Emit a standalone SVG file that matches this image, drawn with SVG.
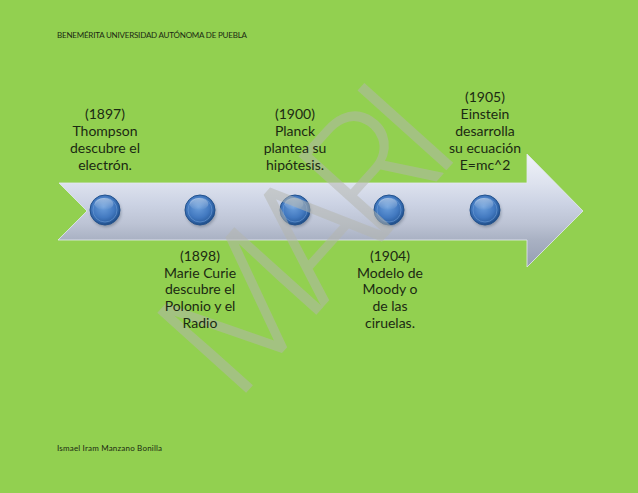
<svg xmlns="http://www.w3.org/2000/svg" width="638" height="493" viewBox="0 0 638 493">
<style>
.lbl{font-family:Lato,"Open Sans","Liberation Sans",sans-serif;font-size:14px;fill:#1b2a12;text-anchor:middle}
.small{font-family:Lato,"Open Sans","Liberation Sans",sans-serif;font-size:8px;fill:#1b2a12}
.wm{font-family:Roboto,"DejaVu Sans",sans-serif;font-weight:300;font-size:168px;fill:#b4b6ae;opacity:0.52}
</style>
<defs>
<linearGradient id="arrowFill" gradientUnits="userSpaceOnUse" x1="0" y1="154" x2="0" y2="267">
<stop offset="0" stop-color="#f0f3f8"/>
<stop offset="0.26" stop-color="#dde2ee"/>
<stop offset="0.45" stop-color="#cbd2e3"/>
<stop offset="0.62" stop-color="#bcc3d4"/>
<stop offset="0.76" stop-color="#a9b1c3"/>
<stop offset="1" stop-color="#959eb2"/>
</linearGradient>
<radialGradient id="ball" cx="0.45" cy="0.4" r="0.6">
<stop offset="0" stop-color="#6a9edb"/>
<stop offset="0.6" stop-color="#4279c0"/>
<stop offset="0.85" stop-color="#2f63a6"/>
<stop offset="1" stop-color="#1d4a82"/>
</radialGradient>
<linearGradient id="hl" x1="0" y1="0" x2="0" y2="1">
<stop offset="0" stop-color="#ffffff" stop-opacity="0.45"/>
<stop offset="1" stop-color="#ffffff" stop-opacity="0"/>
</linearGradient>
<filter id="sh" x="-50%" y="-50%" width="200%" height="200%">
<feGaussianBlur stdDeviation="1.5"/>
</filter>
<g id="dot">
<circle cx="1" cy="2" r="15" fill="#223344" opacity="0.35" filter="url(#sh)"/>
<circle r="15" fill="url(#ball)" stroke="#22528e" stroke-width="1"/>
<circle r="12" fill="none" stroke="#7aa8dd" stroke-width="0.8" opacity="0.6"/>
<ellipse cx="-1" cy="-6" rx="9.5" ry="6" fill="url(#hl)"/>
</g>
</defs>
<rect width="638" height="493" fill="#92d050"/>
<text class="small" x="57" y="38" textLength="190">BENEMÉRITA UNIVERSIDAD AUTÓNOMA DE PUEBLA</text>
<text class="small" x="57" y="451" textLength="105">Ismael Iram Manzano Bonilla</text>
<g id="connectors">
<polygon id="timeline-arrow" points="59,183 527,183 527,154 583,211 527,267 527,240 58,240 87,211" fill="url(#arrowFill)" stroke="#e4e9f2" stroke-width="0.8"/>
</g>
<g id="n1897"><use href="#dot" x="105" y="210"/></g>
<g id="n1898"><use href="#dot" x="200" y="210"/></g>
<g id="n1900"><use href="#dot" x="295" y="210"/></g>
<g id="n1904"><use href="#dot" x="389" y="210"/></g>
<g id="n1905"><use href="#dot" x="485" y="210"/></g>
<text class="wm" transform="translate(236,404) rotate(-48)" x="0" y="0" textLength="342">MARI</text>
<g id="l1897">
<text class="lbl" x="105" y="119">(1897)</text>
<text class="lbl" x="105" y="136">Thompson</text>
<text class="lbl" x="105" y="153">descubre el</text>
<text class="lbl" x="105" y="170">electrón.</text>
</g>
<g id="l1900">
<text class="lbl" x="295" y="119">(1900)</text>
<text class="lbl" x="295" y="136">Planck</text>
<text class="lbl" x="295" y="153">plantea su</text>
<text class="lbl" x="295" y="170">hipótesis.</text>
</g>
<g id="l1905">
<text class="lbl" x="485" y="102">(1905)</text>
<text class="lbl" x="485" y="119">Einstein</text>
<text class="lbl" x="485" y="136">desarrolla</text>
<text class="lbl" x="485" y="153">su ecuación</text>
<text class="lbl" x="485" y="170">E=mc^2</text>
</g>
<g id="l1898">
<text class="lbl" x="200" y="261">(1898)</text>
<text class="lbl" x="200" y="278">Marie Curie</text>
<text class="lbl" x="200" y="294">descubre el</text>
<text class="lbl" x="200" y="311">Polonio y el</text>
<text class="lbl" x="200" y="328">Radio</text>
</g>
<g id="l1904">
<text class="lbl" x="390" y="261">(1904)</text>
<text class="lbl" x="390" y="278">Modelo de</text>
<text class="lbl" x="390" y="294">Moody o</text>
<text class="lbl" x="390" y="311">de las</text>
<text class="lbl" x="390" y="328">ciruelas.</text>
</g>
</svg>
